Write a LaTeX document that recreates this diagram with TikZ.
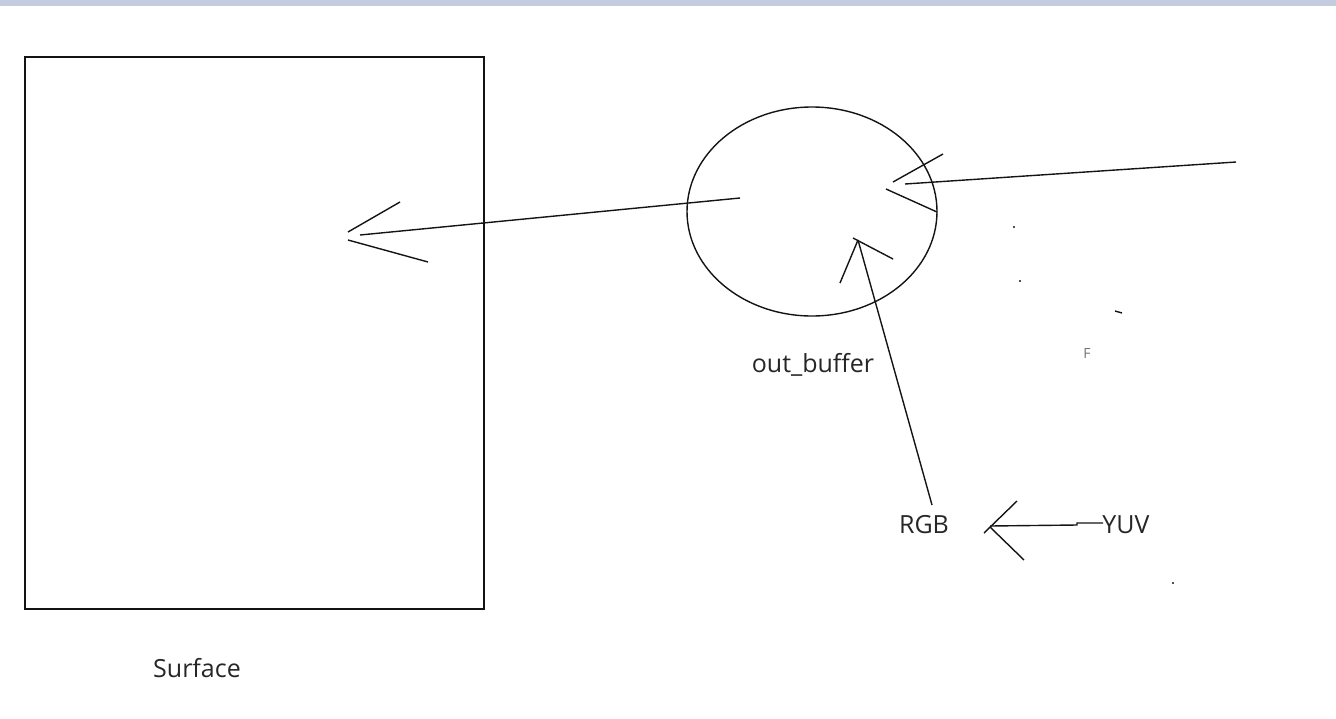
\documentclass[tikz,border=0pt]{standalone}
\usepackage{fontspec}
\setmainfont{Open Sans}
\usetikzlibrary{shapes.geometric}

\definecolor{barblue}{RGB}{196,205,224}
\definecolor{ink}{RGB}{20,20,20}

\tikzstyle{stroke} = [draw=ink, line width=1.4pt]
\tikzstyle{txt} = [font=\fontsize{25}{28}\selectfont, text=black!85, inner sep=0pt]

\begin{document}
\begin{tikzpicture}[x=1pt,y=-1pt]
\useasboundingbox (0,0) rectangle (1336,718);
\fill[barblue] (0,0) rectangle (1336,6);

\node[stroke, rectangle, minimum width=459pt, minimum height=552pt, inner sep=0pt](surface) at (254.5,333) {};
\node[txt](surface_label) at (197,668) {Surface};

\node[stroke, ellipse, minimum width=250pt, minimum height=209pt, inner sep=0pt](buffer) at (812,211.5) {};
\node[txt](buffer_label) at (813,365) {out\_buffer};

\node[txt](rgb) at (924,525) {RGB};
\node[txt](yuv) at (1126,525) {YUV};
\node[font=\fontsize{14}{16}\selectfont, text=black!55, inner sep=0pt](mark) at (1087,353) {F};

% arrow buffer -> surface
\coordinate (out_start) at (740,198);
\coordinate (out_end) at (360,235);
\draw[stroke] (out_start) -- (out_end);
\draw[stroke] (348,232) -- (400,202);
\draw[stroke] (348,240) -- (428,262);

% arrow into buffer
\coordinate (in_start) at (1236,162);
\coordinate (in_end) at (905,184);
\draw[stroke] (in_start) -- (in_end);
\draw[stroke] (893,182) -- (943,154);
\draw[stroke] (886,189) -- (937,212);

% RGB -> buffer
\coordinate (rgb_top) at (932,505);
\coordinate (up_end) at (858,240);
\draw[stroke] (rgb_top) -- (up_end);
\draw[stroke] (858,240) -- (840,283);
\draw[stroke] (853,238) -- (893,259);

% YUV -> RGB
\coordinate (yuv_left) at (1103,523);
\coordinate (conv_end) at (990,526);
\draw[stroke] (yuv_left) -- (1077,523) -- (1077,525) -- (conv_end);
\draw[stroke] (984,533) -- (1017,501);
\draw[stroke] (990,527) -- (1024,560);

% stray marks
\fill[ink] (1014,227) circle (1.2pt);
\fill[ink] (1020,281) circle (1.2pt);
\draw[stroke] (1115,311) -- (1122,313);
\fill[ink] (1173,583) circle (1.2pt);
\end{tikzpicture}
\end{document}
